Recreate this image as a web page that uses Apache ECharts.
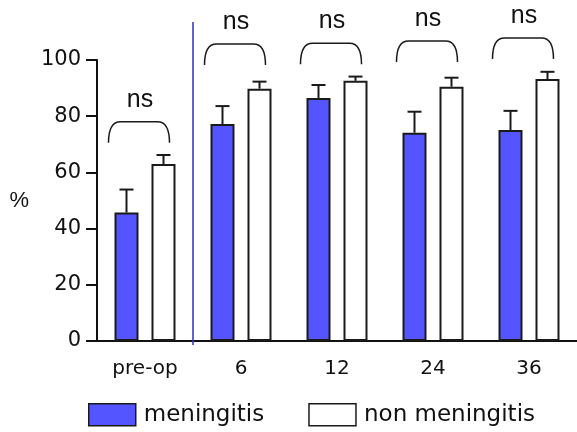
<!DOCTYPE html>
<html><head><meta charset="utf-8">
<script src="https://cdn.jsdelivr.net/npm/echarts@6/dist/echarts.min.js"></script>
<style>html,body{margin:0;padding:0;background:#fff}#c{width:577px;height:432px}</style>
</head><body><div id="c"></div>
<script>
const categories = ['pre-op', '6', '12', '24', '36'];
const meningitis = [45.7, 77.2, 86.5, 74.1, 75.1];
const meningitisErrTop = [53.9, 83.6, 91.1, 81.6, 81.9];
const nonMeningitis = [63.0, 89.8, 92.6, 90.5, 93.2];
const nonMeningitisErrTop = [66.2, 92.3, 94.1, 93.7, 95.8];
const bracketTop = [78.0, 105.7, 106.0, 106.8, 107.8];
const bracketLabel = ['ns', 'ns', 'ns', 'ns', 'ns'];
const yTicks = [0, 20, 40, 60, 80, 100];
const dividerAt = [1];

const BAR_W = 24, BAR_GAP = 13;
const off = (BAR_W + BAR_GAP) / 2;

function errItem(shift) {
  return function (params, api) {
    const i = api.value(0);
    const base = api.coord([i, api.value(1)]);
    const top = api.coord([i, api.value(2)]);
    const x = base[0] + shift;
    return {
      type: 'group',
      children: [
        { type: 'line', shape: { x1: x, y1: base[1], x2: x, y2: top[1] }, style: { stroke: '#1a1a1a', lineWidth: 2 } },
        { type: 'line', shape: { x1: x - 7, y1: top[1], x2: x + 7, y2: top[1] }, style: { stroke: '#1a1a1a', lineWidth: 2 } }
      ]
    };
  };
}

const chart = echarts.init(document.getElementById('c'), null, { renderer: 'canvas' });
chart.setOption({
  animation: false,
  backgroundColor: '#fff',
  grid: { left: 97, top: 60, bottom: 91, right: -10, containLabel: false },
  legend: {
    data: ['meningitis', 'non meningitis'],
    left: 83, top: 398,
    itemWidth: 47, itemHeight: 22, itemGap: 44,
    icon: 'rect',
    itemStyle: { borderColor: '#1a1a1a', borderWidth: 1.5 },
    textStyle: { fontFamily: 'DejaVu Sans', fontSize: 23, color: '#111', padding: [0, 0, 0, 3] }
  },
  xAxis: [{
    type: 'category', data: categories,
    axisLine: { lineStyle: { color: '#111', width: 2 } },
    axisTick: { alignWithLabel: true, length: 7, lineStyle: { color: '#111', width: 2 } },
    axisLabel: { fontFamily: 'DejaVu Sans', fontSize: 20, color: '#111', margin: 18 }
  }, {
    type: 'value', min: 0, max: categories.length, show: false
  }],
  yAxis: {
    type: 'value', min: 0, max: 100, interval: 20,
    name: '%', nameLocation: 'middle', nameRotate: 0, nameGap: 68,
    nameTextStyle: { fontFamily: 'Liberation Sans', fontSize: 22, color: '#111' },
    splitLine: { show: false },
    axisLine: { show: true, lineStyle: { color: '#111', width: 2 } },
    axisTick: { show: true, length: 11, lineStyle: { color: '#111', width: 2 } },
    axisLabel: {
      fontFamily: 'DejaVu Sans', fontSize: 21, color: '#111', margin: 16,
      formatter: v => yTicks.includes(v) ? String(v) : ''
    }
  },
  series: [
    {
      name: 'meningitis', type: 'bar', data: meningitis, barWidth: BAR_W, barGap: (BAR_GAP / BAR_W * 100) + '%',
      itemStyle: { color: '#5555FF', borderColor: '#1a1a1a', borderWidth: 2 }
    },
    {
      name: 'non meningitis', type: 'bar', data: nonMeningitis, barWidth: BAR_W,
      itemStyle: { color: '#ffffff', borderColor: '#1a1a1a', borderWidth: 2 }
    },
    {
      type: 'custom', silent: true, clip: false, z: 5,
      data: meningitis.map((v, i) => [i, v, meningitisErrTop[i]]),
      renderItem: errItem(-off)
    },
    {
      type: 'custom', silent: true, clip: false, z: 5,
      data: nonMeningitis.map((v, i) => [i, v, nonMeningitisErrTop[i]]),
      renderItem: errItem(off)
    },
    {
      type: 'custom', silent: true, clip: false, z: 5,
      data: bracketTop.map((v, i) => [i, v]),
      renderItem: function (params, api) {
        const i = api.value(0);
        const p = api.coord([i, api.value(1)]);
        const cx = p[0] - 6, T = p[1], B = T + 21, L = cx - 30.5, R = cx + 30.5;
        return {
          type: 'group',
          children: [
            { type: 'path', shape: { pathData: `M${L},${B} Q${L},${T} ${L + 12},${T} L${R - 12},${T} Q${R},${T} ${R},${B}` },
              style: { fill: null, stroke: '#1a1a1a', lineWidth: 1.5 } },
            { type: 'text', x: cx + 1, y: T - 22,
              style: { text: bracketLabel[i], fill: '#111', font: '25px "Liberation Sans"', align: 'center', verticalAlign: 'middle' } }
          ]
        };
      }
    },
    {
      type: 'line', xAxisIndex: 1, silent: true, clip: false, symbol: 'none',
      data: [[dividerAt[0], -1.4], [dividerAt[0], 113.5]],
      lineStyle: { color: '#2f2fc0', width: 1.5 }
    }
  ]
});
</script></body></html>
